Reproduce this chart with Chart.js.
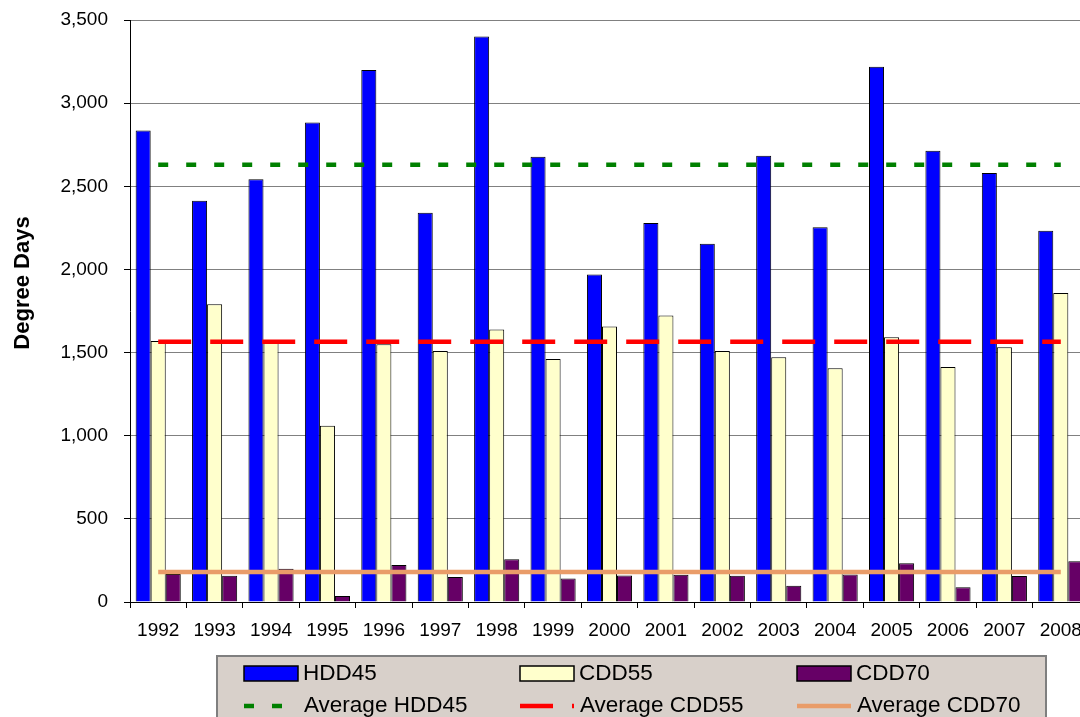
<!DOCTYPE html>
<html>
<head>
<meta charset="utf-8">
<title>Degree Days 1992-2008</title>
<script src="https://cdn.jsdelivr.net/npm/chart.js@4.4.1/dist/chart.umd.min.js"></script>
<style>
  html, body { margin: 0; padding: 0; background: #fff; overflow: hidden; }
  #wrap { width: 1080px; height: 717px; overflow: hidden; }
  canvas { display: block; }
</style>
</head>
<body>
<div id="wrap"><canvas id="degreeChart" width="1095" height="745"></canvas></div>
<script>
// Annual degree days by year
const years = ['1992', '1993', '1994', '1995', '1996', '1997', '1998', '1999', '2000',
               '2001', '2002', '2003', '2004', '2005', '2006', '2007', '2008'];
const hdd45 = [2835, 2413, 2542, 2883, 3200, 2341, 3401, 2678, 1970,
               2279, 2154, 2684, 2253, 3219, 2714, 2580, 2233];
const cdd55 = [1570, 1791, 1560, 1060, 1550, 1510, 1639, 1461, 1657,
               1723, 1510, 1472, 1405, 1592, 1413, 1532, 1858];
const cdd70 = [169, 158, 200, 36, 223, 150, 257, 142, 160,
               164, 158, 98, 165, 233, 88, 157, 245];

// Long-term averages
const avgHdd45 = 2630;
const avgCdd55 = 1565;
const avgCdd70 = 180;

const yTicks = [0, 500, 1000, 1500, 2000, 2500, 3000, 3500];

const FONT = "'Liberation Sans', Arial, sans-serif";

// y-axis title, placed the way the spreadsheet puts it
const axisTitle = {
    id: 'axisTitle',
    afterDraw(chart) {
        const ctx = chart.ctx;
        ctx.save();
        ctx.translate(23, 283);
        ctx.rotate(-Math.PI / 2);
        ctx.font = 'bold 22px ' + FONT;
        ctx.fillStyle = '#000';
        ctx.textAlign = 'center';
        ctx.textBaseline = 'middle';
        ctx.fillText('Degree Days', 0, 0);
        ctx.restore();
    }
};

// Boxed legend below the axis, three columns by two rows
const boxLegend = {
    id: 'boxLegend',
    afterDraw(chart) {
        const ctx = chart.ctx;
        const top = chart.chartArea.bottom + 54;
        const left = 217;
        ctx.save();
        ctx.fillStyle = '#D8D0CA';
        ctx.fillRect(left, top, 829, 100);
        ctx.strokeStyle = '#7F7F7F';
        ctx.lineWidth = 2;
        ctx.strokeRect(left, top, 829, 100);

        const colX = [244, 520, 797];
        const rowY = [top + 17.5, top + 50];
        ctx.font = '22.5px ' + FONT;
        ctx.textBaseline = 'middle';
        ctx.textAlign = 'left';

        chart.data.datasets.forEach((ds, i) => {
            const x = colX[i % 3];
            const y = rowY[Math.floor(i / 3)];
            if (ds.type === 'line') {
                ctx.strokeStyle = ds.borderColor;
                ctx.lineWidth = ds.borderWidth;
                ctx.lineCap = 'butt';
                ctx.setLineDash(ds.borderDash || []);
                ctx.beginPath();
                ctx.moveTo(x, y);
                ctx.lineTo(x + 54, y);
                ctx.stroke();
                ctx.setLineDash([]);
                ctx.fillStyle = '#000';
                ctx.fillText(ds.label, x + 60, y);
            } else {
                ctx.fillStyle = ds.backgroundColor;
                ctx.fillRect(x, y - 7.5, 54, 15);
                ctx.strokeStyle = '#000';
                ctx.lineWidth = 1.5;
                ctx.strokeRect(x, y - 7.5, 54, 15);
                ctx.fillStyle = '#000';
                ctx.fillText(ds.label, x + 59, y);
            }
        });
        ctx.restore();
    }
};

const flat = v => years.map(() => v);

new Chart(document.getElementById('degreeChart'), {
    type: 'bar',
    data: {
        labels: years,
        datasets: [
            { label: 'HDD45', data: hdd45, backgroundColor: '#0000FF', borderColor: '#000', borderWidth: 1, order: 2 },
            { label: 'CDD55', data: cdd55, backgroundColor: '#FFFFCC', borderColor: '#000', borderWidth: 1, order: 2 },
            { label: 'CDD70', data: cdd70, backgroundColor: '#660066', borderColor: '#000', borderWidth: 1, order: 2 },
            { type: 'line', label: 'Average HDD45', data: flat(avgHdd45), borderColor: '#008000',
              borderWidth: 4.5, borderDash: [10, 18], pointRadius: 0, borderCapStyle: 'butt', order: 1 },
            { type: 'line', label: 'Average CDD55', data: flat(avgCdd55), borderColor: '#FF0000',
              borderWidth: 4.5, borderDash: [33, 19], pointRadius: 0, borderCapStyle: 'butt', order: 1 },
            { type: 'line', label: 'Average CDD70', data: flat(avgCdd70), borderColor: '#E99C69',
              borderWidth: 4.5, pointRadius: 0, borderCapStyle: 'butt', order: 1 }
        ]
    },
    options: {
        responsive: false,
        animation: false,
        devicePixelRatio: 1,
        datasets: {
            bar: { categoryPercentage: 0.8, barPercentage: 1.0 }
        },
        layout: { padding: { top: 20, right: 6, bottom: 103, left: 0 } },
        plugins: {
            legend: { display: false },
            tooltip: { enabled: false }
        },
        scales: {
            x: {
                offset: true,
                grid: { drawOnChartArea: false, drawTicks: true, tickLength: 6, color: '#000', offset: true },
                border: { display: true, color: '#000', width: 1 },
                ticks: { color: '#000', font: { family: FONT, size: 19 }, padding: 11,
                         maxRotation: 0, autoSkip: false },
                afterFit: scale => { scale.height = 40; }
            },
            y: {
                min: 0,
                max: 3500,
                afterBuildTicks: scale => { scale.ticks = yTicks.map(v => ({ value: v })); },
                grid: { color: '#808080', lineWidth: 1, drawTicks: true, tickLength: 6, tickColor: '#000' },
                border: { display: true, color: '#000', width: 1 },
                ticks: { color: '#000', font: { family: FONT, size: 19 }, padding: 16,
                         callback: v => v.toLocaleString('en-US') },
                afterFit: scale => {
                    scale.width = 130;
                    scale.paddingTop = 0;
                    scale.paddingBottom = 0;
                }
            }
        }
    },
    plugins: [axisTitle, boxLegend]
});
</script>
</body>
</html>
